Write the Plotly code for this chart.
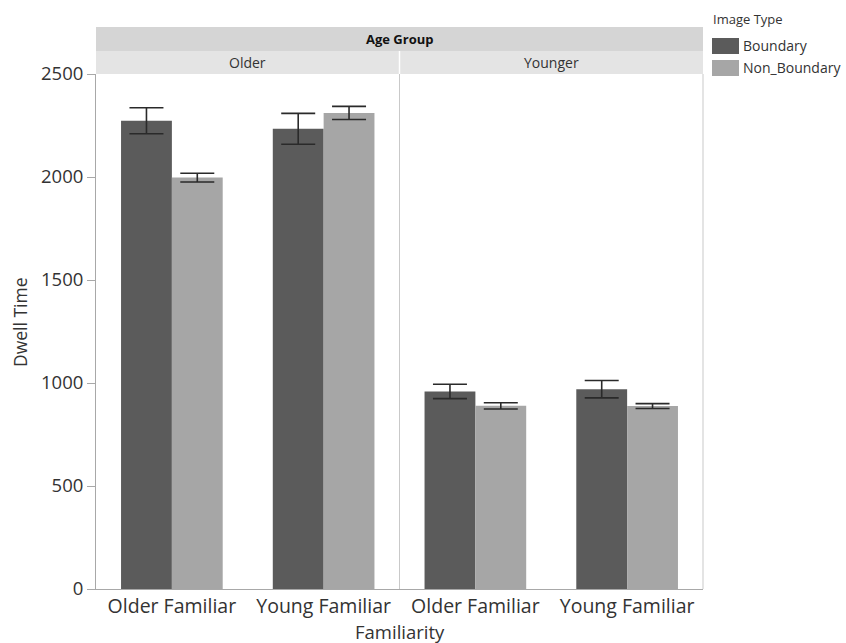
import plotly.graph_objects as go

# Dwell time by familiarity, split into age-group panels
familiarity = ["Older Familiar", "Young Familiar"]
age_groups = ["Older", "Younger"]
image_types = ["Boundary", "Non_Boundary"]

boundary_older = [2273, 2234]
boundary_older_err = [63, 75]
non_boundary_older = [1997, 2311]
non_boundary_older_err = [21, 32]

boundary_younger = [959, 970]
boundary_younger_err = [35, 42]
non_boundary_younger = [889, 888]
non_boundary_younger_err = [15, 12]

y_ticks = [0, 500, 1000, 1500, 2000, 2500]

FONT = "Open Sans"
TXT = "#333333"
COL_B = "#5b5b5b"
COL_NB = "#a6a6a6"
AXIS_COL = "#a8a8a8"

W, H = 846, 643
L, R, T, B = 96, 143, 74, 54
PW = W - L - R
PH = H - T - B


def px_x(x):
    return (x - L) / PW


def px_y(y):
    return (H - B - y) / PH


fig = go.Figure()

panels = [
    ("x", boundary_older, boundary_older_err, non_boundary_older, non_boundary_older_err),
    ("x2", boundary_younger, boundary_younger_err, non_boundary_younger, non_boundary_younger_err),
]
for xa, b, be, nb, nbe in panels:
    for name, vals, errs, col in [
        (image_types[0], b, be, COL_B),
        (image_types[1], nb, nbe, COL_NB),
    ]:
        fig.add_trace(go.Bar(
            x=familiarity, y=vals, name=name, xaxis=xa, yaxis="y",
            marker=dict(color=col, line=dict(width=0)),
            error_y=dict(type="data", array=errs, visible=True,
                         color="#2a2a2a", thickness=1.6, width=17),
            showlegend=False,
        ))

split = 0.5
axis_common = dict(
    showline=True, linecolor=AXIS_COL, linewidth=1, ticks="",
    tickfont=dict(family=FONT, size=19.5, color=TXT), showgrid=False,
    zeroline=False, fixedrange=True,
)
fig.update_layout(
    width=W, height=H,
    margin=dict(l=L, r=R, t=T, b=B),
    paper_bgcolor="white", plot_bgcolor="white",
    barmode="group", bargap=0.33, bargroupgap=0,
    xaxis=dict(domain=[0, split], anchor="y", **axis_common),
    xaxis2=dict(domain=[split, 1], anchor="y", **axis_common),
    yaxis=dict(
        range=[0, 2500], tickvals=y_ticks, ticks="outside", ticklen=8,
        tickcolor=AXIS_COL, showline=True, linecolor=AXIS_COL, linewidth=1,
        showgrid=False, zeroline=False,
        tickfont=dict(family=FONT, size=18.5, color=TXT),
    ),
    showlegend=False,
)

shapes = []
# facet strips
y_s1_top, y_s1_bot = px_y(27), px_y(51)
y_s2_bot = px_y(74)
shapes.append(dict(type="rect", xref="paper", yref="paper", x0=0, x1=1,
                   y0=y_s1_bot, y1=y_s1_top, fillcolor="#d5d5d5", line=dict(width=0), layer="below"))
shapes.append(dict(type="rect", xref="paper", yref="paper", x0=0, x1=1,
                   y0=y_s2_bot, y1=y_s1_bot, fillcolor="#e4e4e4", line=dict(width=0), layer="below"))
shapes.append(dict(type="line", xref="paper", yref="paper", x0=split, x1=split,
                   y0=y_s2_bot, y1=y_s1_bot, line=dict(color="white", width=1.5)))
# panel divider and right border
shapes.append(dict(type="line", xref="paper", yref="paper", x0=split, x1=split,
                   y0=0, y1=y_s2_bot, line=dict(color="#c9c9c9", width=1)))
shapes.append(dict(type="line", xref="paper", yref="paper", x0=1, x1=1,
                   y0=0, y1=y_s2_bot, line=dict(color="#c9c9c9", width=1)))
# legend swatches
for (y0, y1), col in [((38, 54), COL_B), ((60, 76), COL_NB)]:
    shapes.append(dict(type="rect", xref="paper", yref="paper",
                       x0=px_x(712), x1=px_x(739), y0=px_y(y1), y1=px_y(y0),
                       fillcolor=col, line=dict(width=0)))
fig.update_layout(shapes=shapes)


def label(text, x, y, size, color=TXT, xanchor="center", angle=0):
    return dict(text=text, x=x, y=y, xref="paper", yref="paper", showarrow=False,
                xanchor=xanchor, yanchor="middle", textangle=angle,
                font=dict(family=FONT, size=size, color=color))


ann = [label("<b>Age Group</b>", 0.5, (y_s1_top + y_s1_bot) / 2, 13, "#111111")]
for i, g in enumerate(age_groups):
    ann.append(label(g, split * (i + 0.5), (y_s1_bot + y_s2_bot) / 2, 14))
ann.append(label("Familiarity", px_x(400), px_y(631), 18.5))
ann.append(label("Dwell Time", px_x(20), px_y(322), 17.5, angle=-90))
ann.append(label("Image Type", px_x(711), px_y(19), 13, xanchor="left"))
for name, yc in [(image_types[0], 46), (image_types[1], 68)]:
    ann.append(label(name, px_x(741), px_y(yc), 14, xanchor="left"))
fig.update_layout(annotations=ann)

fig.write_html("out.html")
